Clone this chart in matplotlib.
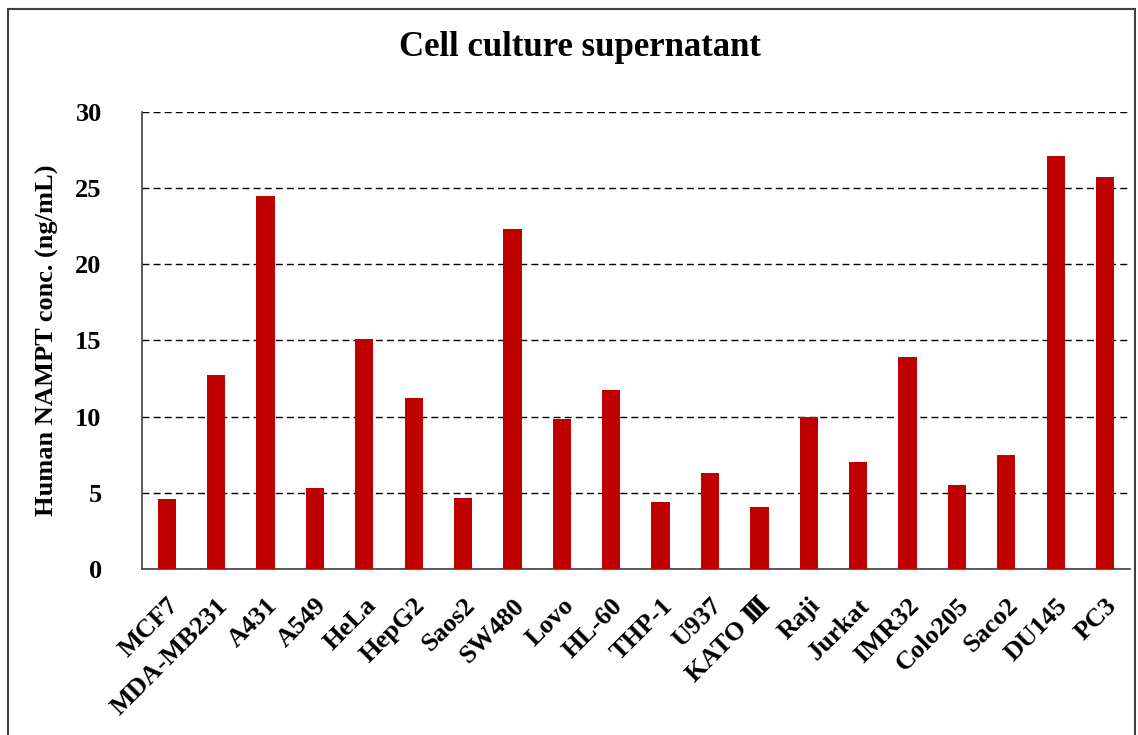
import matplotlib.pyplot as plt
from matplotlib.patches import Rectangle

cells = ['MCF7', 'MDA-MB231', 'A431', 'A549', 'HeLa', 'HepG2', 'Saos2', 'SW480', 'Lovo', 'HL-60',
         'THP-1', 'U937', 'KATO \u2162', 'Raji', 'Jurkat', 'IMR32', 'Colo205', 'Saco2', 'DU145', 'PC3']
nampt = [4.6, 12.7, 24.5, 5.3, 15.1, 11.2, 4.65, 22.3, 9.85, 11.75,
         4.4, 6.3, 4.1, 10.0, 7.0, 13.9, 5.5, 7.5, 27.1, 25.7]
yticks = [0, 5, 10, 15, 20, 25, 30]

plt.rcParams['font.family'] = ['Liberation Serif', 'DejaVu Serif']
plt.rcParams['font.weight'] = 'bold'

fig = plt.figure(figsize=(11.38, 7.35), dpi=100)
ax = fig.add_axes([0.1248, 0.2259, 0.868, 0.6218])

x = range(len(cells))
ax.bar(x, nampt, width=0.37, color='#C00000', zorder=3)
ax.set_xlim(-0.5, len(cells) - 0.5)
ax.set_ylim(0, 30)
ax.set_yticks(yticks)
ax.set_yticklabels([str(v) for v in yticks], fontsize=19, fontweight='bold')
ax.yaxis.grid(True, linestyle=(0, (5, 3)), color='black', linewidth=1)
ax.set_axisbelow(True)

ax.set_xticks(list(x))
ax.set_xticklabels(cells, rotation=45, ha='right', rotation_mode='anchor', fontsize=19, fontweight='bold')
ax.tick_params(axis='both', length=0)
ax.tick_params(axis='y', pad=29)
ax.tick_params(axis='x', pad=18)

ax.spines['top'].set_visible(False)
ax.spines['right'].set_visible(False)
ax.spines['left'].set_color('#404040')
ax.spines['bottom'].set_color('#404040')
ax.spines['left'].set_linewidth(1.2)
ax.spines['bottom'].set_linewidth(1.2)

ax.set_ylabel('Human NAMPT conc. (ng/mL)', fontsize=19, fontweight='bold', labelpad=12)
fig.text(0.51, 0.936, 'Cell culture supernatant', ha='center', va='center', fontsize=25, fontweight='bold')

# border around the chart area
fig.patches.append(Rectangle((8 / 1138, -0.05), 1127 / 1138, 1.05 - 9 / 735, transform=fig.transFigure,
                             fill=False, edgecolor='#404040', linewidth=1.5))

fig.savefig('out.png', dpi=100)
